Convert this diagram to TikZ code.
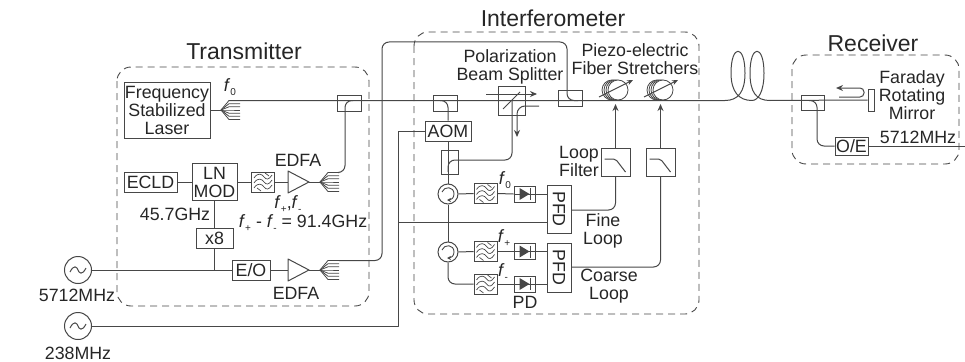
\documentclass[tikz,border=0pt]{standalone}
\usepackage{fontspec}
\setmainfont{Liberation Sans}
\usetikzlibrary{arrows.meta,calc}
\definecolor{ink}{gray}{0.28}
\tikzset{
  blockbox/.style={draw=ink,line width=1pt,inner sep=0pt},
  fiber/.style={draw=ink,line width=1pt,line join=round},
  fiberbend/.style={fiber,rounded corners=7pt},
  region/.style={draw=ink,line width=.9pt,dash pattern=on 7pt off 5pt,rounded corners=14pt},
  lbl/.style={inner sep=0pt,align=center,text=black!85,font=\fontsize{17.8}{18}\selectfont},
  headline/.style={inner sep=0pt,text=black!85,font=\fontsize{23}{25}\selectfont},
  tip/.style={-{Stealth[length=7pt,width=6pt]}}
}
\newcommand{\freq}[1]{\textit{f}\raisebox{-.4ex}{\fontsize{10}{10}\selectfont #1}}
\newcommand{\fanout}[3]{%
  \coordinate (#1) at (#2,#3);
  \coordinate (#1 top) at (#2+19,#3-9.5);
  \foreach \k in {-9.5,-6.3,-3.2,0,3.2,6.3,9.5}
    \draw[fiber,line width=.8pt] (#1) -- (#2+8,#3+\k) -- (#2+19,#3+\k);
}
\newcommand{\wavebox}[3]{%
  \node[blockbox,minimum width=23pt,minimum height=20pt] (#1) at (#2,#3) {};
  \begin{scope}[shift={(#2,#3)}]
    \foreach \k in {-5,0,5}
      \draw[fiber,line width=.7pt] (-9,\k+1) .. controls (-5,\k-5) and (-1,\k-3) .. (1,\k) .. controls (3,\k+3) and (6,\k+3) .. (9,\k-2);
    \draw[fiber,line width=.7pt] (2,-9) -- (6,-6) (-6,6) -- (-2,9);
  \end{scope}
}
\newcommand{\diode}[3]{%
  \node[blockbox,minimum width=21pt,minimum height=16pt] (#1) at (#2,#3) {};
  \fill[ink] (#2-5,#3-6) -- (#2+5,#3) -- (#2-5,#3+6) -- cycle;
  \draw[fiber] (#2+5.5,#3-6) -- (#2+5.5,#3+6) (#1.west) -- (#1.east);
}
\newcommand{\circulator}[3]{%
  \node[blockbox,circle,minimum size=20pt] (#1) at (#2,#3) {};
  \begin{scope}[shift={(#2,#3)}]
    \draw[fiber,line width=.9pt,-{Stealth[length=4pt,width=4pt]}] (-6,-2) .. controls (-4,-8) and (6,-8) .. (6,0) .. controls (6,4) and (3,6) .. (-1,6);
  \end{scope}
}
\newcommand{\lowpass}[3]{%
  \node[blockbox,minimum width=29pt,minimum height=28pt] (#1) at (#2,#3) {};
  \draw[fiber,rounded corners=2pt] (#2-11,#3-3) -- (#2,#3-3) -- (#2+10,#3+10);
}
\newcommand{\stretcher}[3]{%
  \foreach \k in {-6,-4,-2}
    \node[blockbox,line width=.8pt,circle,fill=white,minimum size=20pt] at (#2+\k,#3) {};
  \node[blockbox,line width=.8pt,circle,fill=white,minimum size=20pt] (#1) at (#2,#3) {};
  \draw[fiber,-{Stealth[length=6pt,width=5pt]}] (#2-19,#3+7) -- (#2+15,#3-10);
}
\newcommand{\oscillator}[3]{%
  \node[blockbox,circle,minimum size=27pt] (#1) at (#2,#3) {};
  \draw[fiber] (#2-8,#3+2) .. controls (#2-4,#3-6) and (#2-1,#3-3) .. (#2,#3) .. controls (#2+1,#3+3) and (#2+4,#3+6) .. (#2+8,#3-2);
}
\begin{document}
\begin{tikzpicture}[x=1pt,y=-1pt]
\useasboundingbox (0,0) rectangle (965,361);

\draw[region] (117,67) rectangle (369,306);
\draw[region] (414,32) rectangle (699,314);
\draw[region] (792,55) rectangle (959,164);
\node[headline] (txhead) at (244,51) {Transmitter};
\node[headline] (ifhead) at (553,18) {Interferometer};
\node[headline] (rxhead) at (873,43) {Receiver};

% transmitter
\node[blockbox,lbl,minimum width=86pt,minimum height=56pt] (laser) at (167,110) {Frequency\\Stabilized\\Laser};
\node[blockbox,lbl,minimum width=53pt,minimum height=20pt] (ecld) at (150.5,182) {ECLD};
\node[blockbox,lbl,minimum width=45pt,minimum height=37pt] (lnmod) at (214.5,182) {LN\\MOD};
\node[blockbox,lbl,minimum width=37pt,minimum height=20pt] (xeight) at (214.5,238) {x8};
\node[blockbox,lbl,minimum width=38pt,minimum height=20pt] (eo) at (251,270) {E/O};
\wavebox{txflt}{263}{182}
\node[blockbox,minimum width=24pt,minimum height=16pt] (txcpl) at (349,103) {};
\fanout{laserfan}{221}{110}
\fanout{modfan}{320}{182}
\fanout{eofan}{320}{270}
\oscillator{rfhigh}{78}{270}
\oscillator{rflow}{78}{326}
\coordinate (ampA) at (288,182);
\coordinate (ampB) at (288,270);
\coordinate (ampAout) at (309,182);
\coordinate (ampBout) at (309,270);
\foreach \i/\j in {ampA/ampAout,ampB/ampBout}
    \draw[fiber] ($(\i)+(0,-11)$) -- (\j) -- ($(\i)+(0,11)$) -- cycle;
\coordinate (rfjoin) at (214.5,270);

\draw[fiber] (laser.east) -- (laserfan);
\draw[fiber] (ecld.east) -- (lnmod.west);
\draw[fiber] (lnmod.east) -- (txflt.west);
\draw[fiber] (txflt.east) -- (ampA);
\draw[fiber] (ampAout) -- (modfan);
\draw[fiber] (lnmod.south) -- (xeight.north);
\draw[fiber] (xeight.south) -- (rfjoin);
\draw[fiber] (rfhigh.east) -- (eo.west);
\draw[fiber] (eo.east) -- (ampB);
\draw[fiber] (ampBout) -- (eofan);

\node[lbl] (ftxt) at (230,87) {\freq{0}};
\node[lbl] (edfaA) at (298,160) {EDFA};
\node[lbl] (edfaB) at (296,293) {EDFA};
\node[lbl] (fpair) at (288,204) {\freq{+},\freq{-}};
\node[lbl] (fdiff) at (303,223) {\freq{+} - \freq{-} = 91.4GHz};
\node[lbl] (fmod) at (175,214) {45.7GHz};
\node[lbl] (rfhightxt) at (77,295) {5712MHz};
\node[lbl] (rflowtxt) at (78,353) {238MHz};

% interferometer
\node[blockbox,lbl,minimum width=46pt,minimum height=20pt] (aom) at (448,131) {AOM};
\node[blockbox,minimum width=24pt,minimum height=16pt] (aomcpl) at (445,103) {};
\node[blockbox,minimum width=17pt,minimum height=24pt] (tapcpl) at (449.5,162) {};
\node[blockbox,minimum width=27pt,minimum height=29pt] (pbs) at (511.5,100.5) {};
\node[blockbox,minimum width=24pt,minimum height=16pt] (ifcpl) at (570,98) {};
\draw[fiber] (503,109) -- (520,92);
\circulator{circA}{448}{194}
\circulator{circB}{448}{252}
\wavebox{fltA}{485.5}{193.5}
\wavebox{fltB}{485.5}{251.5}
\wavebox{fltC}{485.5}{284}
\diode{pdA}{524.5}{194}
\diode{pdB}{524.5}{251.5}
\diode{pdC}{524.5}{284}
\node[blockbox,lbl,minimum width=48pt,minimum height=24pt,rotate=-90] (pfdA) at (559,209) {PFD};
\node[blockbox,lbl,minimum width=49pt,minimum height=24pt,rotate=-90] (pfdB) at (559,267.5) {PFD};
\lowpass{lpfA}{615.5}{162}
\lowpass{lpfB}{660.5}{162}
\stretcher{pztA}{618}{90}
\stretcher{pztB}{663}{90}
\coordinate (pztAin) at (615.5,104);
\coordinate (pztBin) at (660.5,104);
\coordinate (refjoin) at (398,222);
\coordinate (pbsin) at (486,94);
\coordinate (pbsout) at (537,94);
\coordinate (pbsret) at (539,106);
\coordinate (pbsdown) at (517,137);

% receiver and the span
\node[blockbox,minimum width=23pt,minimum height=15pt] (rxcpl) at (812.5,102.5) {};
\node[blockbox,minimum width=6pt,minimum height=22pt] (mirror) at (871,100) {};
\node[blockbox,lbl,minimum width=33pt,minimum height=18pt] (oe) at (851.5,146) {O/E};
\node[lbl] (mirrortxt) at (912,95) {Faraday\\Rotating\\Mirror};
\node[lbl] (rxrftxt) at (918,137) {5712MHz};
\coordinate (rxout) at (965,146);
\coordinate (retA) at (839,97);
\coordinate (retB) at (836,88);

% main fibre
\draw[fiber] (laserfan top) -- (229,100.5) -- (725,100.5) .. controls (738,100.5) and (745,92) .. (745,73) .. controls (745,44) and (731,44) .. (731,73) .. controls (731,92) and (739,100.5) .. (752,100.5) .. controls (758,100.5) and (764,92) .. (764,73) .. controls (764,44) and (750,44) .. (750,73) .. controls (750,92) and (756,100.5) .. (770,100.5) -- (mirror.west);

% tapped fibres
\draw[fiberbend] (modfan top) -- (345,172.5) -- (345,100.5) -- (353,100.5);
\draw[fiberbend] (eofan top) -- (382,260.5) -- (382,42) -- (567,42) -- (567,100.5) -- (578,100.5);
\draw[fiberbend] (440,100.5) -- (448,100.5) -- (aom.north);
\draw[fiber] (aom.south) -- (circA.north);
\draw[fiberbend] (448,172) -- (448,160) -- (512,160) -- (512,100.5);
\draw[fiber] (circA.south) -- (circB.north);
\draw[fiberbend] (circB.south) -- (448,284) -- (fltC.west);
\draw[fiberbend] (809,100.5) -- (817,100.5) -- (817,146) -- (oe.west);
\draw[fiber] (oe.east) -- (rxout);
\draw[fiber] (circA.east) -- (fltA.west);
\draw[fiber] (circB.east) -- (fltB.west);
\foreach \i/\j in {fltA/pdA,fltB/pdB,fltC/pdC}
    \draw[fiber] (\i.east) -- (\j.west);
\draw[fiber] (pdA.east) -- (pdA.east -| pfdA.south);
\draw[fiber] (pdB.east) -- (pdB.east -| pfdB.south);
\draw[fiber] (pdC.east) -- (pdC.east -| pfdB.south);

% reference, error signals
\draw[fiber] (rflow.east) -- (398,326) -- (398,131) -- (aom.west);
\draw[fiber] (refjoin) -- (refjoin -| pfdA.south);
\draw[fiberbend] (pfdA.north |- 0,210) -- (615.5,210) -- (lpfA.south);
\draw[fiberbend] (pfdB.north |- 0,267) -- (660.5,267) -- (lpfB.south);
\draw[fiber,tip] (lpfA.north) -- (pztAin);
\draw[fiber,tip] (lpfB.north) -- (pztBin);

% beam directions
\draw[fiber,tip] (pbsin) -- (pbsout);
\draw[fiber,rounded corners=8pt,tip] (pbsret) -- (517,106) -- (pbsdown);
\draw[fiber,rounded corners=4pt,tip] (retA) -- (864,97) -- (864,88) -- (retB);

\node[lbl] (ftxtA) at (505,180) {\freq{0}};
\node[lbl] (ftxtB) at (504,238) {\freq{+}};
\node[lbl] (ftxtC) at (503,272) {\freq{-}};
\node[lbl] (pdtxt) at (525,302) {PD};
\node[lbl] (finetxt) at (603,230.5) {Fine\\Loop};
\node[lbl] (coarsetxt) at (609,286.5) {Coarse\\Loop};
\node[lbl] (filtertxt) at (579,161) {Loop\\Filter};
\node[lbl] (pbstxt) at (510,66.5) {Polarization\\Beam Splitter};
\node[lbl] (pzttxt) at (635,59) {Piezo-electric\\Fiber Stretchers};
\end{tikzpicture}
\end{document}
